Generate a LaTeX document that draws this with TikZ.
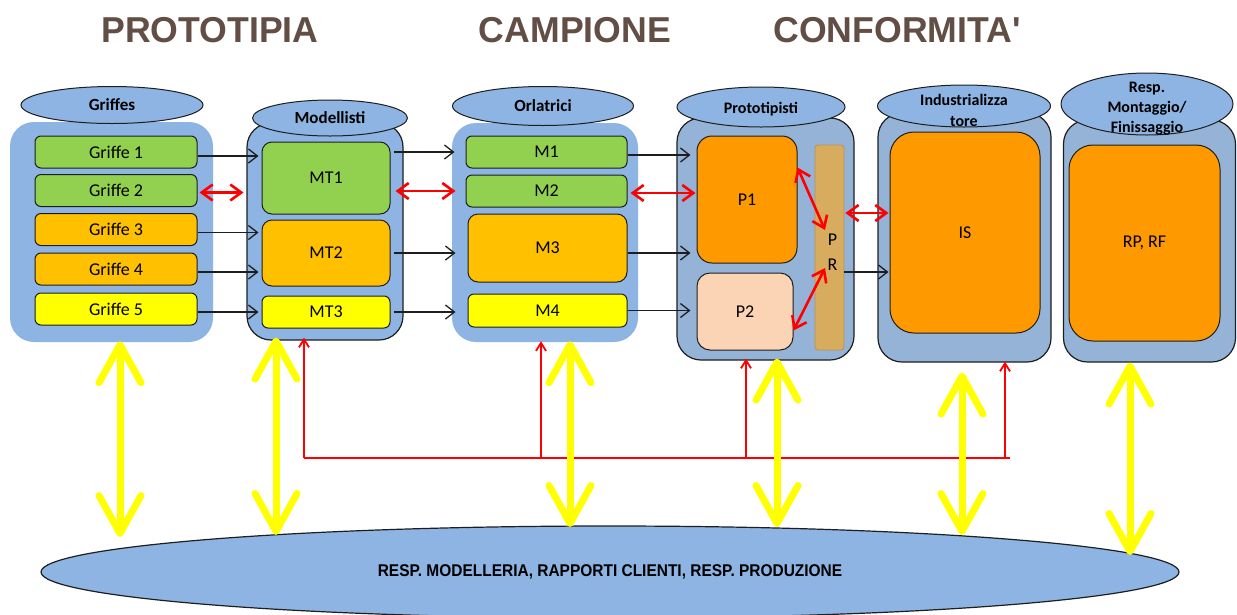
\documentclass[tikz,border=0pt]{standalone}
\usepackage{fontspec}
\setmainfont{Carlito}
\newfontfamily\titlefont{Liberation Sans}
\usetikzlibrary{arrows.meta,shapes.geometric}

\definecolor{boxblue}{HTML}{8DB4E2}
\definecolor{boxgrey}{HTML}{95B3D7}
\definecolor{lgreen}{HTML}{92D050}
\definecolor{amber}{HTML}{FFC000}
\definecolor{dorange}{HTML}{FF9900}
\definecolor{peach}{HTML}{FAD4B4}
\definecolor{tanbar}{HTML}{D8AC5F}
\definecolor{titlebrown}{RGB}{98,78,68}
\definecolor{yel}{HTML}{FFFF00}
\definecolor{edge}{HTML}{1E1E1E}

\tikzset{
  cont/.style={rounded corners=24pt, fill=boxblue, inner sep=0pt},
  contline/.style={cont, draw=edge, line width=1.2pt},
  contgrey/.style={contline, fill=boxgrey},
  head/.style={ellipse, draw=edge, line width=1pt, fill=boxblue, inner sep=0pt,
    font=\fontsize{17}{20}\selectfont\bfseries, align=center},
  headtext/.style={inner sep=0pt, align=center, font=\fontsize{16}{20}\selectfont\bfseries},
  item/.style={rounded corners=6pt, draw=edge, line width=1pt, inner sep=0pt,
    font=\fontsize{18}{20}\selectfont, align=center},
  bigitem/.style={item, rounded corners=24pt},
  title/.style={font=\titlefont\fontsize{36}{40}\selectfont\bfseries, text=titlebrown},
  blk/.style={-{Straight Barb[length=9pt,width=14pt]}, line width=1.3pt, draw=edge},
  redboth/.style={{Straight Barb[length=11pt,width=16pt]}-{Straight Barb[length=11pt,width=16pt]},
    line width=2.6pt, draw=red},
  feed/.style={line width=1.8pt, draw=red},
  feedup/.style={feed, -{Straight Barb[length=8pt,width=10pt]}},
  yelboth/.style={{Straight Barb[round,length=38pt,width=42pt]}-{Straight Barb[round,length=38pt,width=42pt]},
    line width=7pt, draw=yel},
}

\begin{document}
\begin{tikzpicture}[x=1pt,y=-1pt]
\useasboundingbox[fill=white] (0,0) rectangle (1237,614);

% phase titles
\node[title] (t1) at (210,30) {\scalebox{0.99}[1]{PROTOTIPIA}};
\node[title] (t2) at (575,30) {\scalebox{0.99}[1]{CAMPIONE}};
\node[title] (t3) at (897,30) {\scalebox{0.99}[1]{CONFORMITA'}};

% containers (cylinders)
\node[cont, minimum width=203pt, minimum height=220pt] (cg) at (111.5,232) {};
\node[contline, minimum width=156pt, minimum height=217pt] (cm) at (325,231.5) {};
\node[cont, minimum width=186pt, minimum height=219pt] (co) at (545,232.5) {};
\node[contgrey, minimum width=177pt, minimum height=242pt] (cp) at (765.5,239) {};
\node[contgrey, minimum width=173pt, minimum height=249pt] (ci) at (964.5,237.5) {};
\node[contgrey, minimum width=172pt, minimum height=242pt] (cr) at (1149.5,241) {};

% container heads
\node[head, minimum width=182pt, minimum height=37pt] (hg) at (112,105) {Griffes};
\node[head, minimum width=155pt, minimum height=36pt] (hm) at (330,118) {Modellisti};
\node[head, minimum width=181pt, minimum height=39pt] (ho) at (543,106) {Orlatrici};
\node[head, minimum width=168pt, minimum height=40pt] (hp) at (761,107) {};
\node[headtext] (hpt) at (761,109) {Prototipisti};
\node[head, minimum width=173pt, minimum height=42pt] (hi) at (964,106) {};
\node[headtext, font=\fontsize{16}{21}\selectfont\bfseries] (hit) at (964,110) {Industrializza\\tore};
\node[head, minimum width=172pt, minimum height=62pt] (hr) at (1147,104) {};
\node[headtext] (hrt) at (1147,109) {Resp.\\Montaggio/\\Finissaggio};

% Griffes
\node[item, fill=lgreen, minimum width=162pt, minimum height=32pt] (g1) at (116,152) {Griffe 1};
\node[item, fill=lgreen, minimum width=162pt, minimum height=32pt] (g2) at (116,190.5) {Griffe 2};
\node[item, fill=amber, minimum width=162pt, minimum height=32pt] (g3) at (116,229.5) {Griffe 3};
\node[item, fill=amber, minimum width=162pt, minimum height=32pt] (g4) at (116,269) {Griffe 4};
\node[item, fill=yel, minimum width=162pt, minimum height=32pt] (g5) at (116,309) {Griffe 5};

% Modellisti
\node[item, rounded corners=10pt, fill=lgreen, minimum width=128pt, minimum height=72pt] (mt1) at (326,178) {MT1};
\node[item, rounded corners=10pt, fill=amber, minimum width=128pt, minimum height=66pt] (mt2) at (326,253) {MT2};
\node[item, fill=yel, minimum width=128pt, minimum height=32pt] (mt3) at (326,312) {MT3};

% Orlatrici
\node[item, fill=lgreen, minimum width=161pt, minimum height=32pt] (m1) at (546.5,152) {M1};
\node[item, fill=lgreen, minimum width=161pt, minimum height=32pt] (m2) at (546.5,191) {M2};
\node[item, rounded corners=10pt, fill=amber, minimum width=159pt, minimum height=68pt] (m3) at (547.5,248) {M3};
\node[item, fill=yel, minimum width=159pt, minimum height=33pt] (m4) at (547.5,310.5) {M4};

% Prototipisti
\node[item, rounded corners=15pt, fill=dorange, minimum width=100pt, minimum height=127pt] (p1) at (747,199.5) {P1};
\node[item, rounded corners=13pt, fill=peach, minimum width=96pt, minimum height=77pt] (p2) at (745,311.5) {P2};
\node[rounded corners=3pt, fill=tanbar, draw=tanbar!85!black, line width=0.8pt, inner sep=0pt,
  minimum width=29pt, minimum height=205pt] (pr) at (829.5,247.5) {};
\node[inner sep=0pt, align=center, font=\fontsize{18}{25}\selectfont] (prt) at (832.5,252) {P\\R};

% Industrializzatore and Resp. Montaggio/Finissaggio
\node[bigitem, fill=dorange, minimum width=150pt, minimum height=201pt] (is) at (965,232.5) {IS};
\node[bigitem, fill=dorange, minimum width=151pt, minimum height=196pt] (rp) at (1144.5,243) {RP, RF};

% bottom management ellipse
\node[ellipse, draw=edge, line width=1.2pt, fill=boxblue, inner sep=0pt,
  minimum width=1138pt, minimum height=92pt,
  font=\titlefont\fontsize{17}{20}\selectfont\bfseries] (resp) at (610,572)
  {\scalebox{0.91}[1]{RESP. MODELLERIA, RAPPORTI CLIENTI, RESP. PRODUZIONE}};

% flow Griffes -> Modellisti
\draw[blk, shorten >=3pt] ([yshift=-4pt]g1.east) -- ([yshift=-4pt]g1.east -| mt1.west);
\draw[redboth, shorten <=2pt, shorten >=18pt] ([yshift=-2pt]g2.east) -- ([yshift=-2pt]g2.east -| mt1.west);
\draw[blk, shorten >=3pt] ([yshift=-3pt]g3.east) -- ([yshift=-3pt]g3.east -| mt2.west);
\draw[blk, shorten >=3pt] ([yshift=-3pt]g4.east) -- ([yshift=-3pt]g4.east -| mt2.west);
\draw[blk, shorten >=3pt] ([yshift=-3pt]g5.east) -- ([yshift=-3pt]g5.east -| mt3.west);

% flow Modellisti -> Orlatrici
\draw[blk, shorten <=3pt, shorten >=11pt] (mt1.east |- m1.west) -- (m1.west);
\draw[redboth, shorten <=5pt, shorten >=10pt] (mt1.east |- m2.west) -- (m2.west);
\draw[blk, shorten <=3pt, shorten >=12pt] (mt2.east) -- (mt2.east -| m3.west);
\draw[blk, shorten <=3pt, shorten >=12pt] (mt3.east) -- (mt3.east -| m4.west);

% flow Orlatrici -> Prototipisti
\draw[blk, shorten >=6pt] ([yshift=-3pt]m1.east) -- ([yshift=-3pt]m1.east -| p1.west);
\draw[redboth, shorten <=3pt, shorten >=1pt] ([yshift=-2pt]m2.east) -- ([yshift=-2pt]m2.east -| p1.west);
\draw[blk, shorten >=6pt] ([yshift=-5pt]m3.east) -- ([yshift=-5pt]m3.east -| p1.west);
\draw[blk, shorten >=6pt] (m4.east) -- (m4.east -| p2.west);

% exchanges with P R
\coordinate (prA) at (825,230);
\coordinate (prB) at (825,268);
\draw[redboth] ([yshift=-32pt]p1.north east) -- (prA);
\draw[redboth] ([yshift=20pt]p2.south east) -- (prB);
\draw[redboth, shorten <=1pt, shorten >=1pt] ([yshift=34.5pt]pr.east) -- ([yshift=34.5pt]pr.east -| is.west);
\draw[blk, shorten >=1pt] ([yshift=-24.5pt]pr.east) -- ([yshift=-24.5pt]pr.east -| is.west);

% red feedback loop
\coordinate (fb1) at (304,458);
\coordinate (fb2) at (541,458);
\coordinate (fb3) at (746,458);
\coordinate (fb4) at (1005,458);
\coordinate (fbend) at (1010,458);
\draw[feed] (fb1) -- (fbend);
\draw[feedup, shorten >=-3pt] (fb1) -- (fb1 |- cm.south);
\draw[feedup, shorten >=-1pt] (fb2) -- (fb2 |- co.south);
\draw[feedup, shorten >=-2pt] (fb3) -- (fb3 |- cp.south);
\draw[feedup, shorten >=-1pt] (fb4) -- (fb4 |- ci.south);

% links to management
\coordinate (y1) at (120,537);
\coordinate (y2) at (276,535);
\coordinate (y3) at (570,527);
\coordinate (y4) at (777,527);
\coordinate (y5) at (962,535);
\coordinate (y6) at (1130,555);
\draw[yelboth, shorten <=-1pt] (cg.south -| y1) -- (y1);
\draw[yelboth, shorten <=-3pt] (cm.south -| y2) -- (y2);
\draw[yelboth, shorten <=-1pt] (co.south -| y3) -- (y3);
\draw[yelboth, shorten <=-2pt] (cp.south -| y4) -- (y4);
\draw[yelboth, shorten <=10pt] (ci.south -| y5) -- (y5);
\draw[yelboth, shorten <=0pt] (cr.south -| y6) -- (y6);
\end{tikzpicture}
\end{document}
